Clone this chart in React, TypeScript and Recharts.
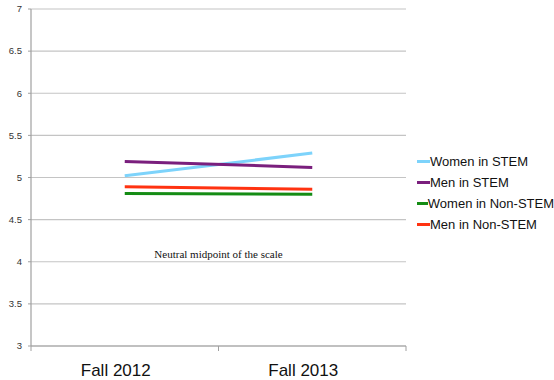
import { LineChart, Line, XAxis, YAxis, CartesianGrid, Legend, ReferenceLine } from "recharts";

const periods = ["Fall 2012", "Fall 2013"];
const womenStem = [5.02, 5.29];
const menStem = [5.19, 5.12];
const womenNonStem = [4.81, 4.8];
const menNonStem = [4.89, 4.86];
const yTicks = [3, 3.5, 4, 4.5, 5, 5.5, 6, 6.5, 7];

const series = [
  { key: "womenStem", name: "Women in STEM", color: "#7dd3fb" },
  { key: "menStem", name: "Men in STEM", color: "#7a1f7d" },
  { key: "womenNonStem", name: "Women in Non-STEM", color: "#148c14" },
  { key: "menNonStem", name: "Men in Non-STEM", color: "#ff3311" },
];

const data = periods.map((period, i) => ({
  pos: i + 0.5,
  period,
  womenStem: womenStem[i],
  menStem: menStem[i],
  womenNonStem: womenNonStem[i],
  menNonStem: menNonStem[i],
}));

// band edges get tick marks, band centres get the labels
const xTicks = periods.flatMap((_, i) => [i, i + 0.5]).concat(periods.length);

const sans = "'Liberation Sans', Arial, sans-serif";

function XTick(props: any) {
  const { x, y, payload } = props;
  const v = payload.value;
  if (Number.isInteger(v)) {
    return <line x1={x} x2={x} y1={y} y2={y + 5} stroke="#a0a0a0" strokeWidth={1} />;
  }
  return (
    <text x={x} y={y + 30} dx={-9} textAnchor="middle" fontFamily={sans} fontSize={17} fill="#111">
      {periods[Math.floor(v)]}
    </text>
  );
}

function LegendBox() {
  return (
    <div style={{ width: 148, paddingLeft: 11, paddingTop: 5, boxSizing: "border-box", fontFamily: sans, fontSize: 13, color: "#111" }}>
      {series.map((s) => (
        <div key={s.key} style={{ display: "flex", alignItems: "center", height: 21, whiteSpace: "nowrap" }}>
          <span style={{ display: "inline-block", width: 13, height: 3, background: s.color }} />
          <span>{s.name}</span>
        </div>
      ))}
    </div>
  );
}

export default function App() {
  return (
    <div style={{ position: "absolute", left: 0, top: 0, background: "#fff" }}>
      <LineChart width={554} height={380} data={data} margin={{ top: 9, right: 0, bottom: 0, left: 0 }}>
        <CartesianGrid vertical={false} stroke="#c4c4c4" strokeWidth={1.2} />
        <XAxis
          type="number"
          dataKey="pos"
          domain={[0, periods.length]}
          ticks={xTicks}
          interval={0}
          height={34}
          tickSize={0}
          tickMargin={0}
          tickLine={false}
          axisLine={{ stroke: "#a0a0a0", strokeWidth: 1.2 }}
          tick={<XTick />}
        />
        <YAxis
          type="number"
          domain={[3, 7]}
          ticks={yTicks}
          interval={0}
          width={31}
          tickSize={3}
          tickMargin={6}
          tickLine={{ stroke: "#a0a0a0" }}
          axisLine={{ stroke: "#a0a0a0", strokeWidth: 1.2 }}
          tick={{ fontFamily: sans, fontSize: 9.5, fill: "#333" }}
        />
        <ReferenceLine
          y={4}
          stroke="none"
          label={{ value: "Neutral midpoint of the scale", position: "top", offset: 4, fontFamily: "'Liberation Serif', 'Times New Roman', serif", fontSize: 11, fill: "#111" }}
        />
        <Legend layout="vertical" align="right" verticalAlign="middle" content={<LegendBox />} />
        {series.map((s) => (
          <Line
            key={s.key}
            dataKey={s.key}
            name={s.name}
            stroke={s.color}
            strokeWidth={3}
            dot={false}
            activeDot={false}
            isAnimationActive={false}
          />
        ))}
      </LineChart>
    </div>
  );
}
